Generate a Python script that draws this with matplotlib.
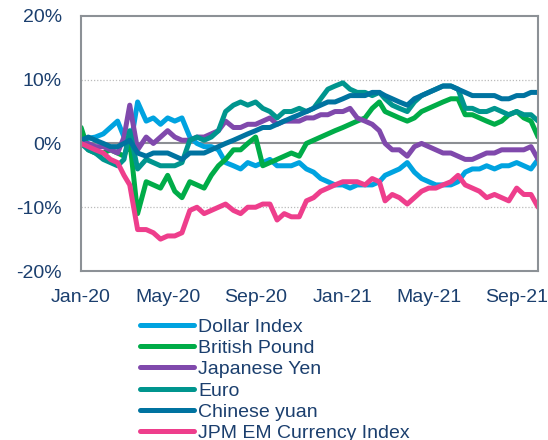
import matplotlib
matplotlib.use("Agg")
import matplotlib.pyplot as plt
import matplotlib.dates as mdates
import pandas as pd

plt.rcParams["font.family"] = ["Liberation Sans", "DejaVu Sans"]

dates = pd.to_datetime([
    "2020-01-01", "2020-01-11", "2020-01-21", "2020-02-01", "2020-02-11", "2020-02-21",
    "2020-03-01", "2020-03-09", "2020-03-20", "2020-04-01", "2020-04-11", "2020-04-21",
    "2020-05-01", "2020-05-11", "2020-05-21", "2020-06-01", "2020-06-11", "2020-06-21",
    "2020-07-01", "2020-07-11", "2020-07-21", "2020-08-01", "2020-08-11", "2020-08-21",
    "2020-09-01", "2020-09-11", "2020-09-21", "2020-10-01", "2020-10-11", "2020-10-21",
    "2020-11-01", "2020-11-11", "2020-11-21", "2020-12-01", "2020-12-11", "2020-12-21",
    "2021-01-01", "2021-01-11", "2021-01-21", "2021-02-01", "2021-02-11", "2021-02-21",
    "2021-03-01", "2021-03-11", "2021-03-21", "2021-04-01", "2021-04-11", "2021-04-21",
    "2021-05-01", "2021-05-11", "2021-05-21", "2021-06-01", "2021-06-11", "2021-06-21",
    "2021-07-01", "2021-07-11", "2021-07-21", "2021-08-01", "2021-08-11", "2021-08-21",
    "2021-09-01", "2021-09-11", "2021-09-21", "2021-10-01",
])

# % change since start of 2020
dollar = [0, 0.8, 1.0, 1.5, 2.5, 3.5, 1.0, -1.0, 6.5, 3.5, 4.0, 3.0,
          4.0, 3.5, 4.0, 1.0, 0.0, -0.5, -0.5, -1.0, -3.0, -3.5, -4.0, -3.0,
          -3.5, -3.0, -2.5, -3.5, -3.5, -3.5, -3.0, -4.0, -4.5, -5.5, -6.0, -6.5,
          -6.5, -7.0, -6.5, -6.5, -6.5, -6.0, -5.0, -4.5, -4.0, -3.0, -4.5, -5.5,
          -6.0, -6.5, -6.5, -6.5, -6.0, -4.5, -4.0, -4.0, -3.5, -4.0, -3.5, -3.5,
          -3.0, -3.5, -4.0, -2.5]
pound = [2.5, -1.0, -1.5, -1.5, -1.0, -1.5, -2.0, 0.5, -11.0, -6.0, -6.5, -7.0,
         -5.0, -7.5, -8.5, -6.0, -6.5, -7.0, -5.0, -3.5, -2.5, -1.0, -1.0, 0.0,
         1.0, -3.5, -3.0, -2.5, -2.0, -1.5, -2.0, 0.0, 0.5, 1.0, 1.5, 2.0,
         2.5, 3.0, 3.5, 4.0, 5.5, 6.5, 5.0, 4.5, 4.0, 3.5, 4.0, 5.0,
         5.5, 6.0, 6.5, 7.0, 7.0, 4.5, 4.5, 4.0, 3.5, 3.0, 3.5, 4.5,
         5.0, 4.0, 3.5, 1.0]
yen = [0, 0, -0.5, -0.5, -1.0, -1.5, 1.0, 6.0, -1.0, 1.0, 0.0, 1.0,
       2.0, 1.0, 0.5, 0.5, 1.0, 1.0, 1.5, 2.0, 3.5, 2.5, 2.5, 3.0,
       3.0, 3.5, 4.0, 3.0, 3.5, 3.5, 3.5, 4.0, 4.0, 4.5, 4.5, 5.0,
       5.0, 5.5, 4.0, 3.5, 3.0, 2.0, 0.0, -1.0, -1.0, -2.0, -0.5, 0.0,
       -0.5, -1.0, -1.5, -1.5, -2.0, -2.5, -2.5, -2.0, -1.5, -1.5, -1.0, -1.0,
       -1.0, -1.0, -0.5, -2.5]
euro = [0, -1.0, -1.5, -2.5, -3.0, -3.5, -2.5, 2.0, -4.0, -2.5, -3.0, -3.5,
        -3.5, -3.5, -3.0, 0.5, 1.0, 0.5, 1.0, 2.0, 5.0, 6.0, 6.5, 6.0,
        6.5, 5.5, 5.0, 4.0, 5.0, 5.0, 5.5, 5.0, 5.5, 7.0, 8.5, 9.0,
        9.5, 8.5, 8.0, 8.0, 7.5, 8.0, 7.0, 6.0, 5.5, 5.0, 6.5, 7.5,
        8.0, 8.5, 9.0, 9.0, 8.5, 5.5, 5.5, 5.0, 5.0, 5.5, 5.0, 4.5,
        5.0, 4.5, 4.5, 3.5]
yuan = [0.5, 1.0, 0.5, 0, -0.5, -0.5, 0, 0.5, -1.5, -2.0, -1.5, -1.5,
        -1.5, -2.0, -2.5, -1.5, -1.5, -1.5, -1.0, -0.5, 0.0, 0.5, 1.0, 1.5,
        2.0, 2.5, 2.5, 3.0, 3.5, 4.0, 4.5, 5.0, 5.5, 6.0, 6.5, 6.5,
        7.0, 7.5, 7.5, 7.5, 8.0, 8.0, 7.5, 7.0, 6.5, 6.0, 7.0, 7.5,
        8.0, 8.5, 9.0, 9.0, 8.5, 8.0, 7.5, 7.5, 7.5, 7.5, 7.0, 7.0,
        7.5, 7.5, 8.0, 8.0]
jpm_em = [0, -0.5, -1.0, -1.5, -2.5, -3.0, -5.0, -6.5, -13.5, -13.5, -14.0, -15.0,
          -14.5, -14.5, -14.0, -10.5, -10.0, -11.0, -10.5, -10.0, -9.5, -10.5, -11.0, -10.0,
          -10.0, -9.5, -9.5, -12.0, -11.0, -11.5, -11.5, -9.0, -8.5, -7.5, -7.0, -6.5,
          -6.0, -6.0, -6.0, -6.5, -5.5, -6.0, -9.0, -8.0, -8.5, -9.5, -8.5, -7.5,
          -7.0, -7.0, -6.5, -6.0, -5.0, -6.5, -7.0, -7.5, -8.5, -8.0, -8.5, -9.0,
          -7.0, -8.0, -8.0, -10.0]

series = [
    ("Dollar Index", dollar, "#00A3E0"),
    ("British Pound", pound, "#00AC48"),
    ("Japanese Yen", yen, "#8049AC"),
    ("Euro", euro, "#00958E"),
    ("Chinese yuan", yuan, "#0073A0"),
    ("JPM EM Currency Index", jpm_em, "#EE3E8C"),
]

text_color = "#1B3F6E"
fig = plt.figure(figsize=(5.48, 4.40), dpi=100)
ax = fig.add_axes([0.148, 0.384, 0.834, 0.58])

for name, vals, col in series:
    ax.plot(dates, vals, color=col, lw=3.6, label=name,
            solid_capstyle="round", solid_joinstyle="round")

ax.axhline(0, color="#8C8F94", lw=1.5, zorder=0)
for y in (10, -10):
    ax.axhline(y, color="#BBBBBB", lw=0.9, ls=(0, (1, 1.5)), zorder=0)

ax.set_ylim(-20, 20)
ax.set_yticks([-20, -10, 0, 10, 20])
ax.set_yticklabels(["-20%", "-10%", "0%", "10%", "20%"])
ax.set_xlim(pd.Timestamp("2020-01-01"), pd.Timestamp("2021-10-01"))
ax.xaxis.set_major_locator(mdates.MonthLocator(bymonth=[1, 5, 9]))
ax.xaxis.set_major_formatter(mdates.DateFormatter("%b-%y"))
ax.tick_params(length=0, labelsize=14, labelcolor=text_color)
ax.tick_params(axis="x", pad=13)
ax.tick_params(axis="y", pad=14)
for s in ax.spines.values():
    s.set_color("#8C9196")
    s.set_linewidth(1.5)

fig.legend(loc="upper left", bbox_to_anchor=(140 / 548, 1 - 318 / 440),
           frameon=False, fontsize=14, labelcolor=text_color,
           handlelength=2.8, handletextpad=0.2, labelspacing=0.19,
           borderpad=0, borderaxespad=0)

fig.savefig("out.png", dpi=100)
